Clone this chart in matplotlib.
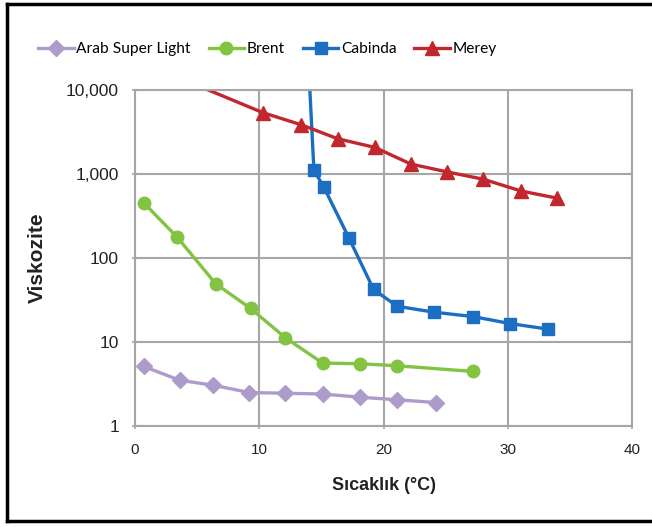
import numpy as np
import matplotlib.pyplot as plt
from matplotlib.lines import Line2D
from matplotlib.ticker import FixedLocator, NullLocator

# data
arab_x = [0.7, 3.6, 6.3, 9.2, 12.1, 15.1, 18.1, 21.1, 24.2]
arab_y = [5.1, 3.5, 3.05, 2.5, 2.45, 2.4, 2.2, 2.05, 1.9]

brent_x = [0.7, 3.4, 6.5, 9.3, 12.1, 15.1, 18.1, 21.1, 27.2]
brent_y = [450, 175, 49, 25, 11.2, 5.6, 5.5, 5.2, 4.45]

cabinda_x = [14.0, 14.4, 15.2, 17.2, 19.2, 21.1, 24.1, 27.2, 30.2, 33.2]
cabinda_y = [16000, 1100, 690, 174, 42, 26.5, 22.5, 20, 16.5, 14.2]

merey_x = [4.0, 10.3, 13.4, 16.3, 19.3, 22.2, 25.1, 28.0, 31.1, 34.0]
merey_y = [12900, 5300, 3800, 2600, 2050, 1300, 1050, 860, 620, 510]

yticks = [1, 10, 100, 1000, 10000]
ytick_labels = ['1', '10', '100', '1,000', '10,000']
xticks = [0, 10, 20, 30, 40]

plt.rcParams['font.family'] = ['Liberation Sans', 'DejaVu Sans']

fig = plt.figure(figsize=(6.52, 5.27), dpi=100)
ax = fig.add_axes([135/652, 1 - 426/527, (632 - 135)/652, (426 - 89.5)/527])

lw = 2.4
ax.plot(arab_x, arab_y, color='#AD9CCB', lw=lw, marker='D', ms=8.5, label='Arab Super Light')
ax.plot(brent_x, brent_y, color='#82C341', lw=lw, marker='o', ms=9, label='Brent')
ax.plot(cabinda_x, cabinda_y, color='#1B6EC2', lw=lw, marker='s', ms=8.5, label='Cabinda')
ax.plot(merey_x, merey_y, color='#C1272D', lw=lw, marker='^', ms=10, label='Merey')

ax.set_yscale('log')
ax.set_ylim(1, 10000)
ax.set_xlim(0, 40)
ax.yaxis.set_major_locator(FixedLocator(yticks))
ax.yaxis.set_minor_locator(NullLocator())
ax.set_yticklabels(ytick_labels)
ax.set_xticks(xticks)

ax.grid(True, color='#A6A6A6', lw=1.5)
ax.set_axisbelow(True)
for s in ax.spines.values():
    s.set_color('#A6A6A6')
    s.set_linewidth(1.5)
ax.tick_params(axis='both', colors='#A6A6A6', labelcolor='#222222',
               length=5, width=1.2, direction='inout')
ax.tick_params(axis='x', pad=10, labelsize=11)
ax.tick_params(axis='y', pad=9, labelsize=12.5)

ax.set_xlabel('Sıcaklık (°C)', fontsize=13, fontweight='bold', color='#222222', labelpad=14)
ax.set_ylabel('Viskozite', fontsize=15, fontweight='bold', color='#222222', labelpad=14)

handles, labels = ax.get_legend_handles_labels()
fig.legend(handles, labels, loc='center', bbox_to_anchor=(0.41, 0.907), ncol=4,
           frameon=False, handlelength=2.3, columnspacing=1.15,
           handletextpad=0.15, prop={'family': 'Lato', 'size': 11.2})

# black frame around the picture (left, top, bottom)
fig.add_artist(Line2D([7/652, 7/652], [1 - 4/527, 1 - 521/527], transform=fig.transFigure,
                      color='black', lw=2.5))
fig.add_artist(Line2D([7/652, 1], [1 - 4/527, 1 - 4/527], transform=fig.transFigure,
                      color='black', lw=2.5))
fig.add_artist(Line2D([7/652, 1], [1 - 521/527, 1 - 521/527], transform=fig.transFigure,
                      color='black', lw=2.5))

fig.savefig('out.png', dpi=100)
